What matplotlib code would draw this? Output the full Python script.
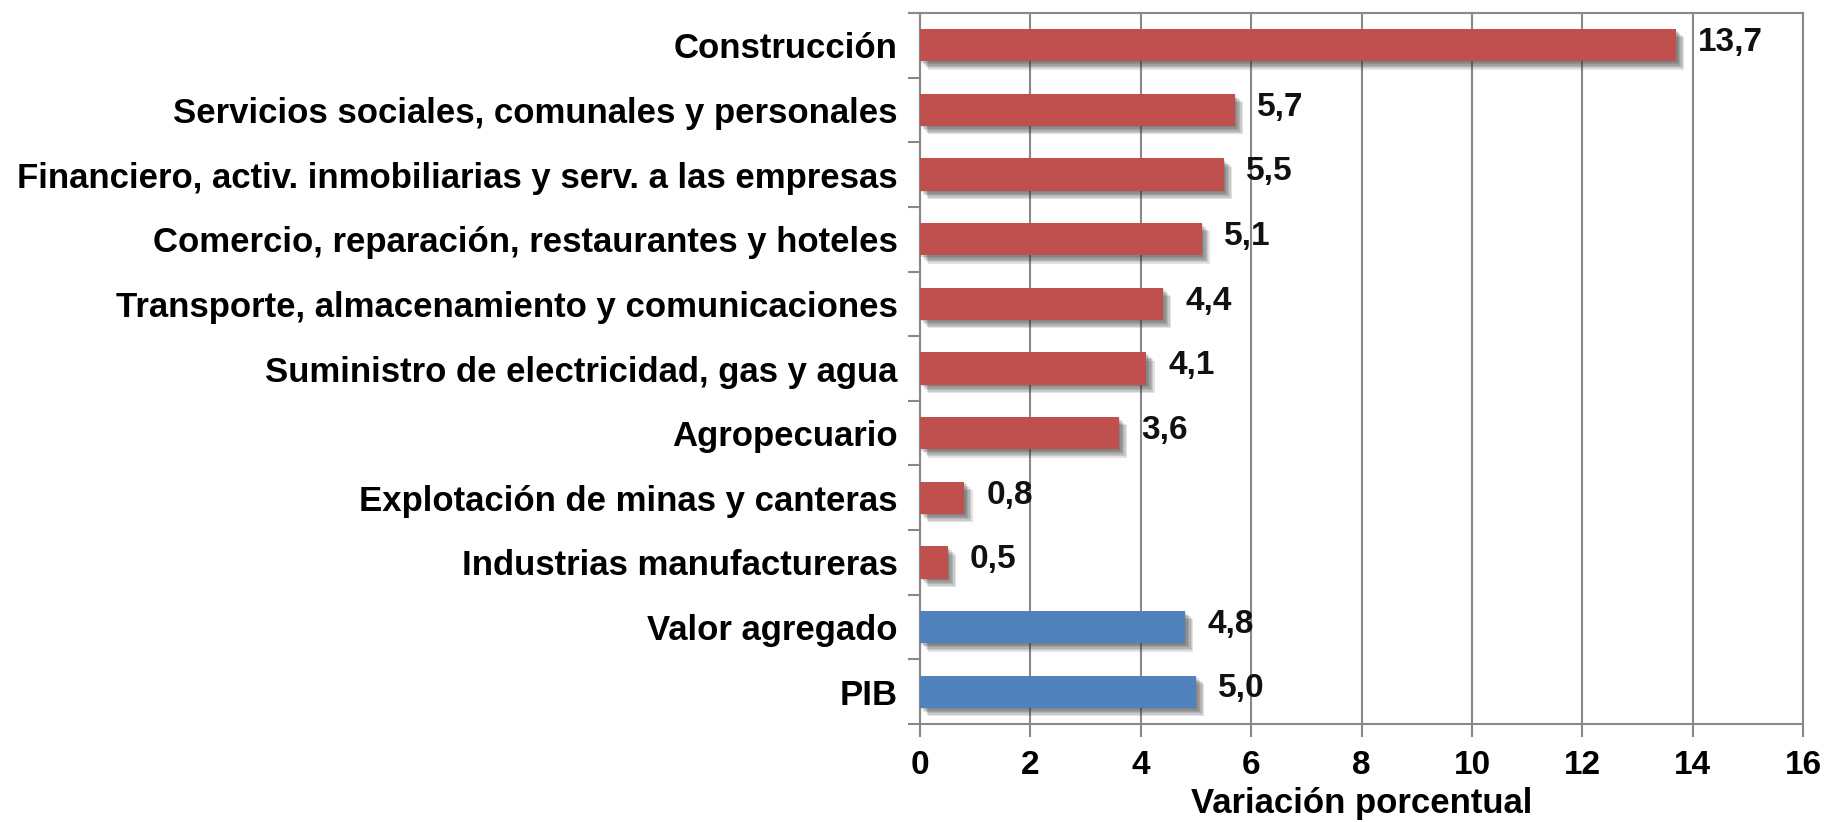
import matplotlib.pyplot as plt
import matplotlib.patheffects as pe
import numpy as np

plt.rcParams['font.family'] = ['Liberation Sans', 'DejaVu Sans']
plt.rcParams['font.weight'] = 'bold'

sectores = ['Construcción',
            'Servicios sociales, comunales y personales',
            'Financiero, activ. inmobiliarias y serv. a las empresas',
            'Comercio, reparación, restaurantes y hoteles',
            'Transporte, almacenamiento y comunicaciones',
            'Suministro de electricidad, gas y agua',
            'Agropecuario',
            'Explotación de minas y canteras',
            'Industrias manufactureras',
            'Valor agregado',
            'PIB']
variacion = [13.7, 5.7, 5.5, 5.1, 4.4, 4.1, 3.6, 0.8, 0.5, 4.8, 5.0]
etiquetas = ['13,7', '5,7', '5,5', '5,1', '4,4', '4,1', '3,6', '0,8', '0,5', '4,8', '5,0']
colores = ['#C0504D'] * 9 + ['#4F81BD'] * 2

fig = plt.figure(figsize=(18.27, 8.22), dpi=100)
ax = fig.add_axes([0.5036, 0.1192, 0.4833, 0.865])

y = np.arange(len(sectores))
bars = ax.barh(y, variacion, height=0.5, color=colores, zorder=3)
# sombra difusa tipo Excel
sombra = [pe.SimplePatchShadow(offset=(d, -d), shadow_rgbFace='#333333', alpha=0.14) for d in (1, 2, 3, 4, 5, 6)]
for b in bars:
    b.set_path_effects(sombra + [pe.Normal()])

for yi, v, t in zip(y, variacion, etiquetas):
    ax.annotate(t, (v, yi), xytext=(16, 2), textcoords='offset points',
                va='center', ha='left', fontsize=24, fontweight='bold', color='#111111')

ax.set_xlim(0, 16)
ax.set_ylim(len(sectores) - 0.5, -0.5)
ax.set_xticks(np.arange(0, 17, 2))
ax.set_yticks(y)
ax.set_yticklabels(sectores, fontsize=25, fontweight='bold')
ax.set_yticks(np.arange(-0.5, len(sectores), 1), minor=True)
ax.tick_params(axis='y', which='major', length=0, pad=16)
ax.tick_params(axis='y', which='minor', length=9, color='#888888', width=1.5)
ax.tick_params(axis='x', length=9, color='#888888', width=1.5, labelsize=24, pad=10)
for lab in ax.get_xticklabels():
    lab.set_fontweight('bold')

ax.grid(axis='x', color='#888888', linewidth=1.5, zorder=0)
for s in ax.spines.values():
    s.set_color('#888888')
    s.set_linewidth(1.5)

ax.set_xlabel('Variación porcentual', fontsize=25, fontweight='bold', labelpad=4)

fig.savefig('out.png', dpi=100)
